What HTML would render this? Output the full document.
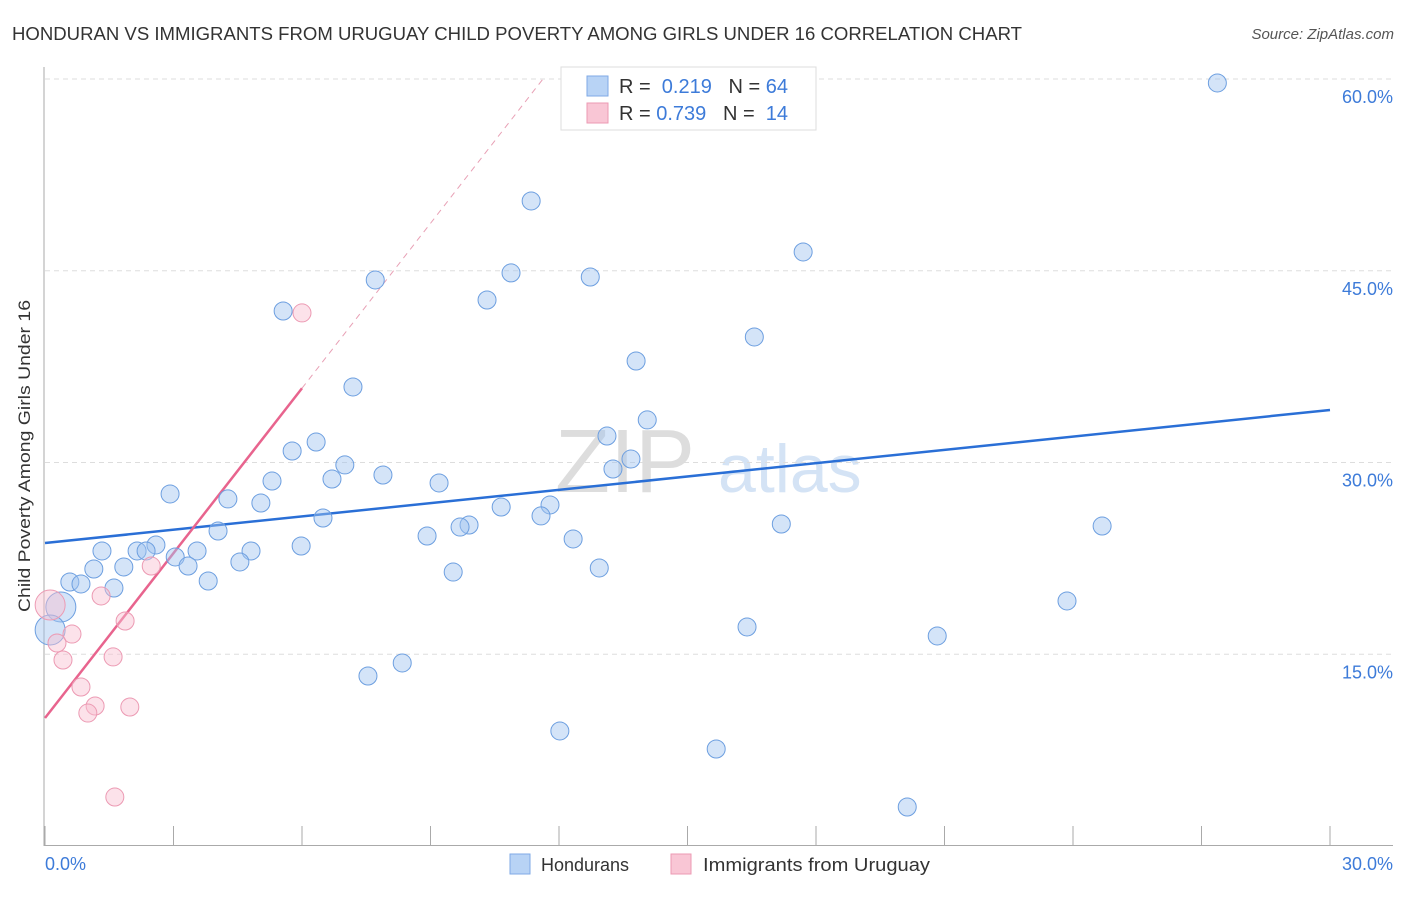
<!DOCTYPE html>
<html><head><meta charset="utf-8"><style>
body{margin:0;background:#fff;font-family:"Liberation Sans",sans-serif}
svg text{font-family:"Liberation Sans",sans-serif}
</style></head><body>
<svg id="chart" width="1406" height="892" xmlns="http://www.w3.org/2000/svg">
<text x="12" y="40" font-size="18" fill="#333" textLength="1010" lengthAdjust="spacingAndGlyphs">HONDURAN VS IMMIGRANTS FROM URUGUAY CHILD POVERTY AMONG GIRLS UNDER 16 CORRELATION CHART</text>
<text x="1394" y="39" font-size="15" fill="#555" font-style="italic" text-anchor="end">Source: ZipAtlas.com</text>
<text x="30" y="456" font-size="17" fill="#333" text-anchor="middle" textLength="312" lengthAdjust="spacingAndGlyphs" transform="rotate(-90 30 456)">Child Poverty Among Girls Under 16</text>
<text x="555" y="492" font-size="90" fill="#ddd" font-family="Liberation Serif">ZIP</text>
<text x="718" y="492" font-size="68" fill="#d4e3f5">atlas</text>
<g id="grid"></g><g id="axes"></g><g id="trends"></g><g id="pts"></g>
<g>
<rect x="561" y="67" width="255" height="63" fill="#fff" stroke="#ddd"/>
<rect x="587" y="76" width="21" height="20" fill="#b8d3f5" stroke="#7fa9e6"/>
<rect x="587" y="103" width="21" height="20" fill="#f9c6d5" stroke="#ec9ab3"/>
<text x="619" y="93" font-size="20" fill="#333">R = <tspan fill="#3d7bd9">&#160;0.219</tspan>&#160;&#160;&#160;N = <tspan fill="#3d7bd9">64</tspan></text>
<text x="619" y="120" font-size="20" fill="#333">R = <tspan fill="#3d7bd9">0.739</tspan>&#160;&#160;&#160;N = <tspan fill="#3d7bd9">&#160;14</tspan></text>
</g>
<g>
<rect x="510" y="854" width="20" height="20" fill="#b8d3f5" stroke="#7fa9e6"/>
<text x="541" y="871" font-size="18" fill="#333">Hondurans</text>
<rect x="671" y="854" width="20" height="20" fill="#f9c6d5" stroke="#ec9ab3"/>
<text x="703" y="871" font-size="18" fill="#333" textLength="227" lengthAdjust="spacingAndGlyphs">Immigrants from Uruguay</text>
</g>
<text x="45" y="870" font-size="18" fill="#3d7bd9">0.0%</text>
<text x="1393" y="870" font-size="18" fill="#3d7bd9" text-anchor="end">30.0%</text>
</svg>
<script>
const blueX=[27.37,11.35,17.70,10.88,12.73,7.71,10.32,5.56,16.56,13.80,7.19,14.06,6.33,13.12,5.77,13.68,7.00,13.26,7.89,6.70,5.30,9.20,2.92,4.27,5.04,10.65,11.79,11.58,6.49,9.90,9.69,17.19,24.68,4.04,8.92,12.33,5.98,2.59,1.33,2.15,2.36,3.55,4.81,3.04,3.34,4.55,1.84,1.14,12.94,9.53,3.81,0.58,0.84,1.61,23.86,0.37,16.39,20.83,0.12,8.34,7.54,12.02,15.67,20.13];
const blueY=[59.69,50.46,46.47,44.83,44.51,44.28,42.71,41.85,39.82,37.94,35.91,33.33,31.60,32.07,30.90,30.27,29.81,29.49,29.02,28.71,28.55,28.40,27.54,27.15,26.83,26.52,26.68,25.82,25.66,25.11,24.95,25.19,25.03,24.64,24.25,24.02,23.47,23.55,23.08,23.08,23.08,23.08,23.08,22.61,21.90,22.22,21.83,21.67,21.75,21.43,20.73,20.65,20.50,20.18,19.17,18.70,17.13,16.43,16.90,14.32,13.30,9.00,7.59,3.05];
const blueBig=[55,58];
const pinkX=[0.12,6.00,2.48,1.31,0.63,0.28,1.87,0.42,1.59,0.84,1.17,1.00,1.98,1.63];
const pinkY=[18.85,41.70,21.90,19.56,16.58,15.88,17.60,14.55,14.79,12.44,10.95,10.40,10.87,3.83];
const pinkBig=[0];
const yTicks=[15,30,45,60];
const yTickLabels=["15.0%","30.0%","45.0%","60.0%"];
const xTicks=[0,3,6,9,12,15,18,21,24,27,30];
const blueTrend=[23.70,34.11];
const pinkTrend=[10.01,4.30];
const sx=v=>45+v*1285/30, sy=v=>846-v*767/60;
const NS="http://www.w3.org/2000/svg";
function mk(tag,parent,attrs){const e=document.createElementNS(NS,tag);for(const k in attrs)e.setAttribute(k,attrs[k]);document.getElementById(parent).appendChild(e);return e;}
yTicks.forEach((t,i)=>{
 const l=mk('line','grid',{x1:45,x2:1393,y1:sy(t),y2:sy(t),stroke:'#ddd','stroke-dasharray':'5,4'});
 
 
 const tx=mk('text','grid',{x:1393,y:sy(t)+24,'font-size':18,fill:'#3d7bd9','text-anchor':'end'});
 tx.textContent=yTickLabels[i];
 
 
});
const ax=mk('line','axes',{x1:44,x2:44,y1:67,y2:846,stroke:'#aaa'});


const bx=mk('line','axes',{x1:44,x2:1393,y1:845.5,y2:845.5,stroke:'#aaa'});


xTicks.forEach(t=>{const l=mk('line','axes',{x1:sx(t),x2:sx(t),y1:826,y2:846,stroke:'#aaa'});
 
 });
const bt=mk('line','trends',{x1:sx(0),y1:sy(blueTrend[0]),x2:sx(30),y2:sy(blueTrend[1]),stroke:'#2a6fd6','stroke-width':2.5});


const xEnd=6.0, xTop=(60-pinkTrend[0])/pinkTrend[1];
const pt=mk('line','trends',{x1:sx(0),y1:sy(pinkTrend[0]),x2:sx(xEnd),y2:sy(pinkTrend[0]+pinkTrend[1]*xEnd),stroke:'#e8648e','stroke-width':2.5});


const pd=mk('line','trends',{x1:sx(xEnd),y1:sy(pinkTrend[0]+pinkTrend[1]*xEnd),x2:sx(xTop),y2:sy(60),stroke:'#e8a0b5','stroke-width':1,'stroke-dasharray':'6,5'});


blueX.forEach((x,i)=>{const c=mk('circle','pts',{cx:sx(x),cy:sy(blueY[i]),r:blueBig.includes(i)?15:9,fill:'rgba(160,196,240,0.45)',stroke:'#6d9fe0','stroke-width':1});
 
 });
pinkX.forEach((x,i)=>{const c=mk('circle','pts',{cx:sx(x),cy:sy(pinkY[i]),r:pinkBig.includes(i)?15:9,fill:'rgba(248,190,208,0.45)',stroke:'#ec9ab3','stroke-width':1});
 
 });
</script>
</body></html>
